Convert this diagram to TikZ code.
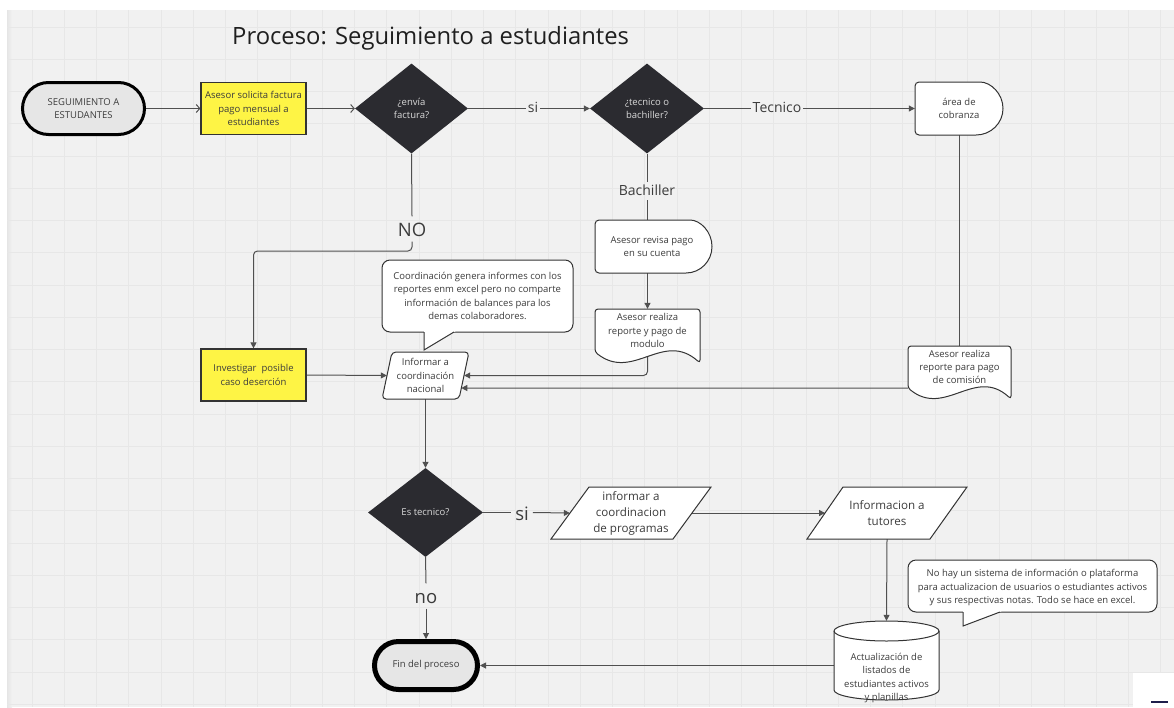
\documentclass[tikz,border=0pt]{standalone}
\usepackage{fontspec}
\setmainfont{Open Sans}
\usetikzlibrary{shapes.geometric,arrows.meta}
\pgfdeclarelayer{grid}
\pgfdeclarelayer{edges}
\pgfsetlayers{grid,edges,main}

\definecolor{canvas}{HTML}{F1F1F1}
\definecolor{gridc}{HTML}{E7E7E7}
\definecolor{ink}{HTML}{3C3C3C}
\definecolor{wire}{HTML}{505050}
\definecolor{edgec}{HTML}{333333}
\definecolor{note}{HTML}{FEF445}
\definecolor{dark}{HTML}{2B2B30}
\definecolor{pale}{HTML}{E6E6E6}
\definecolor{navy}{HTML}{1E1E4B}

\begin{document}
\begin{tikzpicture}[x=1pt,y=-1pt,
  body/.style={font=\fontsize{9.5}{13.2}\selectfont, text=ink, align=center},
  bigtext/.style={font=\fontsize{11.6}{16}\selectfont, text=ink, align=center},
  slot/.style 2 args={body, inner sep=0pt, minimum width=#1, minimum height=#2},
  terminal/.style={body, draw=black, fill=pale, inner sep=0pt},
  process/.style={body, draw=edgec, line width=1.2pt, fill=note,
    minimum width=105, minimum height=52, inner sep=0pt},
  decision/.style={diamond, fill=dark, text=white!85!black, align=center,
    font=\fontsize{9.5}{13}\selectfont, inner sep=0pt},
  outline/.style={draw=edgec, line width=1pt, fill=white},
  conn/.style={draw=wire, line width=1pt, rounded corners=4pt},
  arr/.style={conn, -{Triangle[length=6pt,width=6pt]}},
  barb/.style={conn, -{Straight Barb[length=3.5pt,width=8pt]}},
  lbl/.style={font=\fontsize{14}{14}\selectfont, text=ink, inner sep=2pt,
    text height=11pt, text depth=3pt},
  biglbl/.style={font=\fontsize{18.5}{18.5}\selectfont, text=ink, inner sep=1pt,
    inner xsep=4pt, text height=19pt, text depth=4pt},
]
\useasboundingbox (0,0) rectangle (1174,707);

% canvas with grid
\begin{pgfonlayer}{grid}
  \fill[white] (0,0) rectangle (1174,707);
  \fill[canvas] (7,10) rectangle (1174,707);
  \shade[left color=black!10, right color=canvas] (7,10) rectangle (12,707);
  \foreach \i in {0,...,35}
    \draw[gridc, line width=0.9pt] ({32+\i*32.25},10) -- ({32+\i*32.25},707);
  \foreach \j in {0,...,21}
    \draw[gridc, line width=0.9pt] (7,{27+\j*32.25}) -- (1174,{27+\j*32.25});
  \fill[white] (1133,673) rectangle (1174,707);
  \draw[navy, line width=2.5pt] (1151,702) -- (1168,702);
\end{pgfonlayer}

% title
\node[anchor=base west, font=\fontsize{23.8}{24}\selectfont, text=black!88, inner sep=0pt]
  (title) at (232,44) {Proceso: Seguimiento a estudiantes};

% first row
\node[terminal, line width=3pt, minimum width=122, minimum height=52, rounded corners=26pt]
  (start) at (83.5,108.5) {SEGUIMIENTO A\\ESTUDANTES};
\node[process] (ask) at (253.5,108.5) {Asesor solicita factura\\pago mensual a\\estudiantes};
\node[decision, minimum width=113, minimum height=90] (d1) at (411.5,108.5) {¿envía\\factura?};
\node[decision, minimum width=114, minimum height=90] (d2) at (647,108.5) {¿tecnico o\\bachiller?};

% delay: area de cobranza
\filldraw[outline] (915,108.5) [rounded corners=4pt] -- (915,82) -- (976,82) [sharp corners]
  .. controls +(14.9,0) and +(0,-14.6) .. (1003,108.5)
  .. controls +(0,14.6) and +(14.9,0) .. (976,135) [rounded corners=4pt] -- (915,135) -- cycle;
\node[slot={88}{53}] (cob) at (959,108.5) {área de\\cobranza};

% delay: asesor revisa pago
\filldraw[outline] (595,246.5) [rounded corners=4pt] -- (595,220) -- (686,220) [sharp corners]
  .. controls +(14.4,0) and +(0,-14.6) .. (712,246.5)
  .. controls +(0,14.6) and +(14.4,0) .. (686,273) [rounded corners=4pt] -- (595,273) -- cycle;
\node[slot={117}{53}] (rev) at (652,246.5) {Asesor revisa pago\\en su cuenta};

% documents
\filldraw[outline, rounded corners=3pt] (595,352) -- (595,309) -- (700,309) -- (700,363)
  .. controls (663,330) and (633,382) .. (595,352) -- cycle;
\node[slot={105}{43}] (mod) at (647.5,330.5) {Asesor realiza\\reporte y pago de\\modulo};

\filldraw[outline, rounded corners=3pt] (908,388) -- (908,346) -- (1011,346) -- (1011,399)
  .. controls (975,366) and (945,418) .. (908,388) -- cycle;
\node[slot={103}{42}] (com) at (959.5,367) {Asesor realiza\\reporte para pago\\de comisión};

% yellow process: investigar
\node[process] (inv) at (253.5,375) {Investigar~ posible\\caso deserción};

% parallelogram: informar a coordinacion nacional
\filldraw[outline, rounded corners=4pt] (392,352) -- (469,352) -- (459,399) -- (382,399) -- cycle;
\node[slot={77}{47}] (nac) at (425.5,375.5) {Informar a\\coordinación\\nacional};

% callout above the parallelogram
\filldraw[outline, rounded corners=8pt] (382,260) rectangle (573,332);
\fill[white] (424,331.2) -- (424,350) -- (455.5,331.2) -- cycle;
\draw[edgec, line width=1pt] (424,332) -- (424,350) -- (454,332);
\node[slot={191}{72}] (memo1) at (477.5,296)
  {Coordinación genera informes con los\\reportes enm excel pero no comparte\\información de balances para los\\demas colaboradores.};

% lower part
\node[decision, minimum width=115, minimum height=89] (d3) at (425.5,512.5) {Es tecnico?};

\filldraw[outline] (589,487) -- (711,487) -- (673,539) -- (551,539) -- cycle;
\node[slot={122}{52}, bigtext] (prog) at (631,513) {informar a\\coordinacion\\de programas};

\filldraw[outline] (843,487) -- (967,487) -- (930,539) -- (807,539) -- cycle;
\node[slot={123.5}{52}, bigtext] (tut) at (887,513) {Informacion a\\tutores};

% callout beside the data store
\filldraw[outline, rounded corners=8pt] (908,560) rectangle (1157,612);
\fill[white] (963,611.2) -- (963,626) -- (1001.5,611.2) -- cycle;
\draw[edgec, line width=1pt] (963,612) -- (963,626) -- (1000,612);
\node[slot={249}{52}] (memo2) at (1032.5,587.5)
  {No hay un sistema de información o plataforma\\para actualizacion de usuarios o estudiantes activos\\y sus respectivas notas. Todo se hace en excel.};

% data store cylinder
\filldraw[outline] (834,631) -- (834,690)
  arc[start angle=180, end angle=0, x radius=52.5, y radius=10] -- (939,631)
  arc[start angle=360, end angle=180, x radius=52.5, y radius=10] -- cycle;
\draw[edgec, line width=1pt] (834,631) arc[start angle=180, end angle=0, x radius=52.5, y radius=10];
\node[slot={105}{80}] (cyl) at (886.5,661) {};
\node[body, inner sep=0pt] (cyltxt) at (886.5,678)
  {Actualización de\\listados de\\estudiantes activos\\y planillas};

\node[terminal, line width=5pt, minimum width=103, minimum height=48, rounded corners=24pt]
  (fin) at (426,665.5) {Fin del proceso};

% connector labels
\node[lbl] (si1) at (533,108.5) {si};
\node[lbl] (tec) at (777,108.5) {Tecnico};
\node[lbl] (bach) at (647,191) {Bachiller};
\node[biglbl] (no1) at (412,229) {NO};
\node[biglbl] (si2) at (522,512.5) {si};
\node[biglbl] (no2) at (426,596) {no};

\coordinate (nacside) at (461.3,388);
\coordinate (noturn) at (253.5,251);

% connectors
\begin{pgfonlayer}{edges}
  \draw[barb] (start.east) -- (ask.west);
  \draw[barb] (ask.east) -- (d1.west);
  \draw[conn] (d1.east) -- (si1.west);
  \draw[arr] (si1.east) -- (d2.west);
  \draw[conn] (d2.east) -- (tec.west);
  \draw[arr] (tec.east) -- (cob.west);
  \draw[conn] (d2.south) -- (bach.north);
  \draw[conn] (bach.south) -- (bach.south |- rev.north);
  \draw[arr] (rev.south -| mod.north) -- (mod.north);
  \draw[arr] (mod.south) |- (nac.east);
  \draw[conn] (cob.south) -- (cob.south |- com.north);
  \draw[arr] (com.south west) -- (nacside);
  \draw[conn] (d1.south) -- (no1.north);
  \draw[arr] (no1.south) |- (noturn) -- (inv.north);
  \draw[arr] (inv.east) -- (nac.west);
  \draw[arr] (nac.south) -- (d3.north);
  \draw[conn] (d3.east) -- (si2.west);
  \draw[arr] (si2.east) -- (prog.west);
  \draw[conn] (d3.south) -- (no2.north);
  \draw[arr] (no2.south) -- (fin.north);
  \draw[arr] (prog.east) -- (tut.west);
  \draw[arr] (tut.south) -- (cyl.north);
  \draw[arr] (cyl.west |- fin.east) -- (fin.east);
\end{pgfonlayer}
\end{tikzpicture}
\end{document}
